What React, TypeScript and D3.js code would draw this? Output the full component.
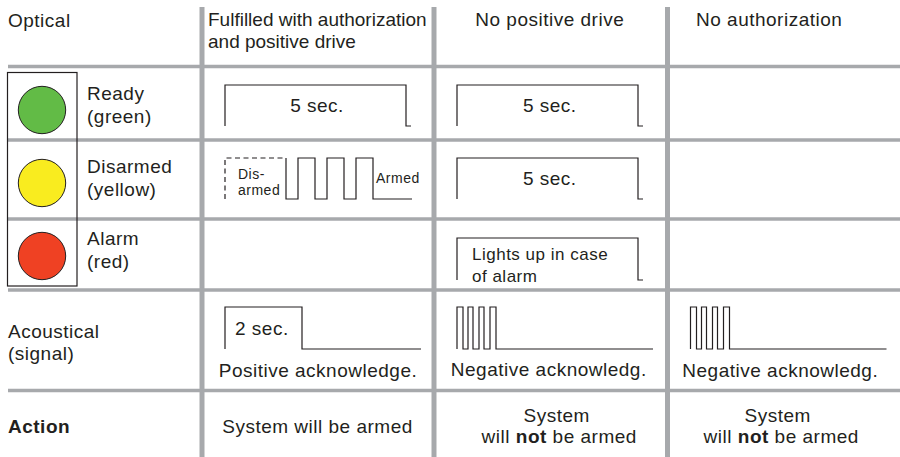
import React from 'react';
import * as d3 from 'd3';

// Texts of the table
const opticalTitle = 'Optical';
const columnHeaders = [
  ['Fulfilled with authorization', 'and positive drive'],
  ['No positive drive'],
  ['No authorization'],
];
const lampLabels = [
  ['Ready', '(green)'],
  ['Disarmed', '(yellow)'],
  ['Alarm', '(red)'],
];
const lampColors = ['#62bb46', '#f9ec1f', '#ef4123'];
const acousticLabel = ['Acoustical', '(signal)'];
const acknowledgements = ['Positive acknowledge.', 'Negative acknowledg.', 'Negative acknowledg.'];
const actionLabel = 'Action';

// Waveforms: level (0 = off, 1 = on) and duration in drawing units
interface Seg {
  level: number;
  dur: number;
}
const holdPulse: Seg[] = [
  { level: 1, dur: 181 },
  { level: 0, dur: 5 },
];
const blinkLead = 61; // dashed "disarmed" part
const blinkPulse: Seg[] = [
  { level: 0, dur: 12 },
  { level: 1, dur: 17 },
  { level: 0, dur: 12 },
  { level: 1, dur: 17 },
  { level: 0, dur: 12 },
  { level: 1, dur: 17 },
  { level: 0, dur: 39 },
];
const beepPulse: Seg[] = [
  { level: 1, dur: 77 },
  { level: 0, dur: 119 },
];
const negativePulse: Seg[] = [
  { level: 1, dur: 6 },
  { level: 0, dur: 5 },
  { level: 1, dur: 5 },
  { level: 0, dur: 6 },
  { level: 1, dur: 5 },
  { level: 0, dur: 6 },
  { level: 1, dur: 6 },
  { level: 0, dur: 157 },
];

// layout
const W = 900;
const H = 457;
const colEdges = [202, 434, 667.5, 900];
const rowEdges = [66.5, 140, 219, 290, 390.5];
const waveLevels = [
  { hi: 85, lo: 126 },
  { hi: 158, lo: 199 },
  { hi: 238, lo: 280 },
  { hi: 307, lo: 349 },
];
const GRID = '#a7a9ac';
const INK = '#231f20';
const FONT = '"Liberation Sans", Arial, Helvetica, sans-serif';

function stepPoints(segs: Seg[], startLevel: number, t0 = 0): [number, number][] {
  const pts: [number, number][] = [[t0, startLevel]];
  let t = t0;
  segs.forEach((s) => {
    pts.push([t, s.level]);
    t += s.dur;
    pts.push([t, s.level]);
  });
  return pts;
}

const Wave: React.FC<{ col: number; row: number; pts: [number, number][]; dashed?: boolean }> = ({
  col,
  row,
  pts,
  dashed,
}) => {
  const x0 = colEdges[col] + 23;
  const xs = d3.scaleLinear().domain([0, 1]).range([x0, x0 + 1]);
  const ys = d3.scaleLinear().domain([0, 1]).range([waveLevels[row].lo, waveLevels[row].hi]);
  const line = d3
    .line<[number, number]>()
    .x((d) => xs(d[0]))
    .y((d) => ys(d[1]));
  return (
    <path
      d={line(pts) || ''}
      fill='none'
      stroke={INK}
      strokeWidth={1.2}
      strokeDasharray={dashed ? '5,3.5' : undefined}
    />
  );
};

const T: React.FC<{
  x: number;
  y: number;
  size?: number;
  anchor?: string;
  bold?: boolean;
  spacing?: number;
  children: React.ReactNode;
}> = ({ x, y, size = 19, anchor = 'start', bold, spacing = 0.5, children }) => (
  <text
    x={x}
    y={y}
    fontSize={size}
    textAnchor={anchor}
    fontWeight={bold ? 'bold' : 'normal'}
    fill={INK}
    style={{ letterSpacing: `${spacing}px` }}
  >
    {children}
  </text>
);

export default function App() {
  const colCenter = (i: number) => (colEdges[i] + colEdges[i + 1]) / 2;

  return (
    <svg
      width={W}
      height={H}
      style={{ position: 'absolute', left: 0, top: 0, background: '#fff' }}
      fontFamily={FONT}
    >
      {/* grid */}
      {rowEdges.map((y, i) => (
        <line key={'h' + i} x1={8} x2={W} y1={y} y2={y} stroke={GRID} strokeWidth={3.5} />
      ))}
      {colEdges.slice(0, 3).map((x, i) => (
        <line key={'v' + i} x1={x} x2={x} y1={7} y2={H} stroke={GRID} strokeWidth={5} />
      ))}

      {/* header */}
      <T x={8} y={27}>{opticalTitle}</T>
      <T x={208} y={26} spacing={0}>{columnHeaders[0][0]}</T>
      <T x={208} y={48} spacing={0}>{columnHeaders[0][1]}</T>
      <T x={colCenter(1) - 1} y={26} anchor='middle'>{columnHeaders[1][0]}</T>
      <T x={colEdges[2] + 28.5} y={26}>{columnHeaders[2][0]}</T>

      {/* traffic light */}
      <rect x={7.5} y={72.5} width={69.5} height={213.5} fill='none' stroke={INK} strokeWidth={1.2} />
      {lampColors.map((c, i) => (
        <circle
          key={c}
          cx={42}
          cy={[110, 183, 256][i]}
          r={23.7}
          fill={c}
          stroke={INK}
          strokeWidth={1}
        />
      ))}
      {lampLabels.map((l, i) => {
        const base = [100, 173, 245][i];
        return (
          <g key={l[0]}>
            <T x={87} y={base}>{l[0]}</T>
            <T x={87} y={base + 22.5}>{l[1]}</T>
          </g>
        );
      })}

      {/* ready row */}
      <Wave col={0} row={0} pts={stepPoints(holdPulse, 0)} />
      <T x={colCenter(0) - 1} y={112} anchor='middle'>5 sec.</T>
      <Wave col={1} row={0} pts={stepPoints(holdPulse, 0)} />
      <T x={colCenter(1) - 1} y={112} anchor='middle'>5 sec.</T>

      {/* disarmed row */}
      <Wave
        col={0}
        row={1}
        pts={[
          [0, 0],
          [0, 1],
          [blinkLead, 1],
        ]}
        dashed
      />
      <Wave col={0} row={1} pts={stepPoints(blinkPulse, 1, blinkLead)} />
      <T x={238} y={179} size={14}>Dis-</T>
      <T x={238} y={195} size={14}>armed</T>
      <T x={376} y={183} size={14}>Armed</T>
      <Wave col={1} row={1} pts={stepPoints(holdPulse, 0)} />
      <T x={colCenter(1) - 1} y={185} anchor='middle'>5 sec.</T>

      {/* alarm row */}
      <Wave col={1} row={2} pts={stepPoints(holdPulse, 0)} />
      <T x={472} y={260} size={17}>Lights up in case</T>
      <T x={472} y={282} size={17}>of alarm</T>

      {/* acoustical row */}
      <T x={8} y={338}>{acousticLabel[0]}</T>
      <T x={8} y={360}>{acousticLabel[1]}</T>
      <Wave col={0} row={3} pts={stepPoints(beepPulse, 0)} />
      <T x={235} y={335}>2 sec.</T>
      <Wave col={1} row={3} pts={stepPoints(negativePulse, 0)} />
      <Wave col={2} row={3} pts={stepPoints(negativePulse, 0)} />
      <T x={colCenter(0)} y={377} anchor='middle'>{acknowledgements[0]}</T>
      <T x={colCenter(1) - 2} y={376} anchor='middle'>{acknowledgements[1]}</T>
      <T x={colCenter(2) - 3.5} y={377} anchor='middle'>{acknowledgements[2]}</T>

      {/* action row */}
      <T x={8} y={433} bold>{actionLabel}</T>
      <T x={colCenter(0) - 0.5} y={433} anchor='middle'>System will be armed</T>
      {[1, 2].map((c) => (
        <g key={'act' + c}>
          <T x={colCenter(c) + (c === 1 ? 6 : -6)} y={422} anchor='middle'>System</T>
          <T x={colCenter(c) + (c === 1 ? 8.5 : -2.5)} y={443} anchor='middle'>
            will <tspan fontWeight='bold'>not</tspan> be armed
          </T>
        </g>
      ))}
    </svg>
  );
}
